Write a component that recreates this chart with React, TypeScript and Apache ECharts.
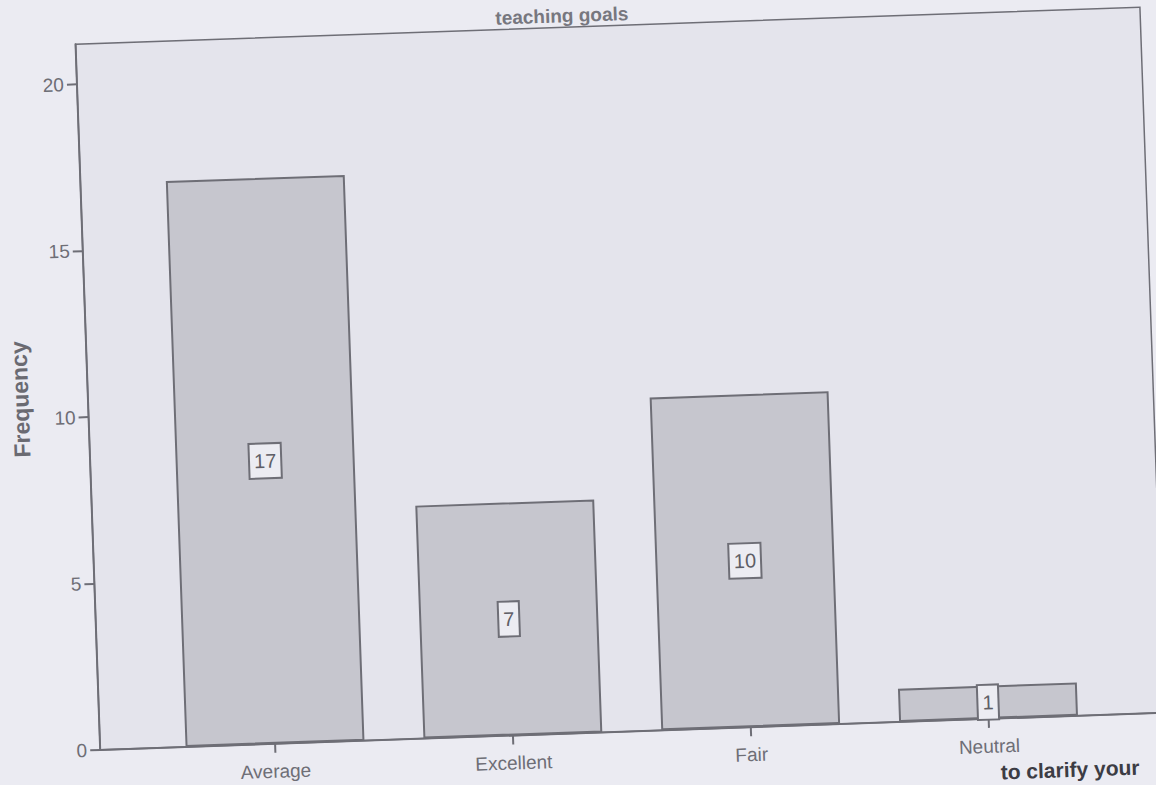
import React, { useEffect, useRef } from "react";
import * as echarts from "echarts";

const categories = ["Average", "Excellent", "Fair", "Neutral"];
const frequencies = [17, 7, 10, 1];
const yTicks = [0, 5, 10, 15, 20];
const titleText = "teaching goals";
const yAxisName = "Frequency";
const footerText = "to clarify your";

export default function App() {
  const ref = useRef<HTMLDivElement>(null);
  useEffect(() => {
    if (!ref.current) return;
    const chart = echarts.init(ref.current, null, { renderer: "svg" });
    const gray = "#6e6e76";
    const font = "Liberation Sans, Arial, sans-serif";
    chart.setOption({
      animation: false,
      backgroundColor: "transparent",
      textStyle: { fontFamily: font },
      title: {
        text: titleText,
        left: 570,
        textAlign: "center",
        top: 1,
        textStyle: { fontSize: 19, fontWeight: "bold", color: "#77777f" },
      },
      grid: {
        left: 88,
        right: 3,
        top: 27,
        bottom: 87,
        show: true,
        backgroundColor: "#e4e4ec",
        borderColor: gray,
        borderWidth: 1.5,
      },
      xAxis: {
        type: "value",
        min: -0.735,
        max: 3.74,
        splitLine: { show: false },
        axisLine: { show: true, onZero: false, lineStyle: { color: gray, width: 2 } },
        axisTick: {
          show: true,
          customValues: categories.map((_, i) => i),
          length: 9,
          lineStyle: { color: gray, width: 2 },
        },
        axisLabel: {
          customValues: categories.map((_, i) => i),
          formatter: (v: number) => categories[Math.round(v)] ?? "",
          color: gray,
          fontSize: 19,
          margin: 18,
        },
      },
      yAxis: {
        type: "value",
        min: 0,
        max: 21.2,
        name: yAxisName,
        nameLocation: "middle",
        nameGap: 56,
        nameTextStyle: { fontSize: 23, fontWeight: "bold", color: "#6a6a72" },
        splitLine: { show: false },
        axisLine: { show: true, onZero: false, lineStyle: { color: gray, width: 2 } },
        axisTick: {
          show: true,
          customValues: yTicks,
          length: 10,
          lineStyle: { color: gray, width: 2 },
        },
        axisLabel: {
          customValues: yTicks,
          color: gray,
          fontSize: 19,
          margin: 13,
        },
      },
      series: [
        {
          type: "bar",
          data: frequencies.map((v, i) => [i, v]),
          barWidth: 179,
          itemStyle: { color: "#c6c6ce", borderColor: gray, borderWidth: 2 },
          label: {
            show: true,
            position: "inside",
            color: "#5e5e66",
            fontSize: 20,
            lineHeight: 22,
            backgroundColor: "#ececf2",
            borderColor: gray,
            borderWidth: 2,
            padding: [6, 4, 5, 4],
          },
        },
      ],
      graphic: [
        {
          type: "text",
          right: 30,
          top: 776,
          style: {
            text: footerText,
            fontSize: 21,
            fontWeight: "bold",
            fill: "#3c3c44",
            fontFamily: font,
          },
        },
      ],
    });
    return () => chart.dispose();
  }, []);
  return (
    <div
      style={{
        position: "fixed",
        left: 0,
        top: 0,
        width: 1156,
        height: 785,
        background: "#ebebf2",
        overflow: "hidden",
      }}
    >
      <div
        ref={ref}
        style={{
          width: 1156,
          height: 820,
          transform: "rotate(-2deg)",
          transformOrigin: "578px 392px",
        }}
      />
    </div>
  );
}
